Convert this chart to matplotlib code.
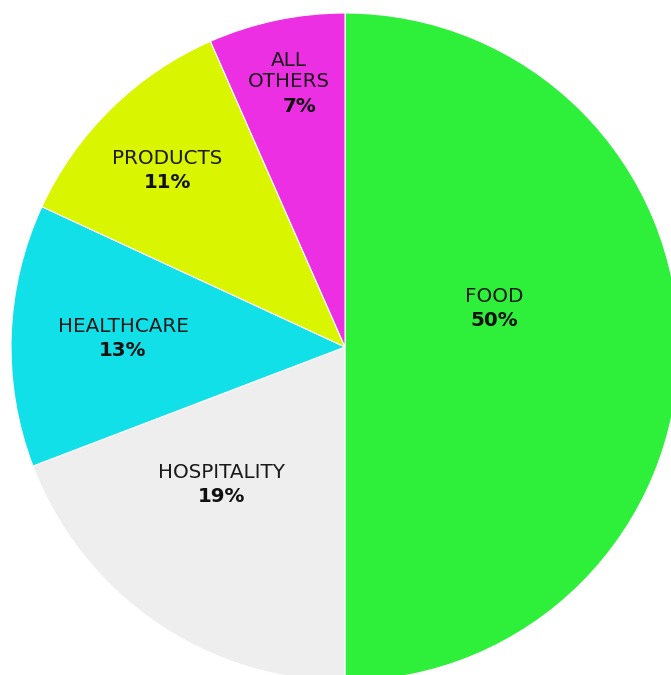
import matplotlib
matplotlib.use("Agg")
import matplotlib.pyplot as plt

categories = ["FOOD", "HOSPITALITY", "HEALTHCARE", "PRODUCTS", "ALL\nOTHERS"]
values = [50.0, 19.2, 12.7, 11.5, 6.6]
pct_labels = ["50%", "19%", "13%", "11%", "7%"]
colors = ["#2EEF3A", "#EEEEEE", "#12E0E8", "#DAF500", "#EC2FE2"]

# label anchor offsets (pixels from pie centre): x centre, y of name line, y of pct line
label_x = [149, -123, -222, -178, -56]
name_y = [50, -125, 21, 188, 276]
pct_y = [26, -149, -3, 164, 241]
pct_x_shift = [0, 0, 0, 0, 11]

W, H = 671, 675
cx, cy = 345, 347
R = 334

fig = plt.figure(figsize=(W / 100, H / 100), dpi=100)
ax = fig.add_axes([0, 0, 1, 1])
ax.pie(values, colors=colors, startangle=90, counterclock=False, radius=R,
       center=(0, 0), frame=True,
       wedgeprops=dict(edgecolor="white", linewidth=0.8))
ax.set_xlim(-cx, W - cx)
ax.set_ylim(-(H - cy), cy)
ax.set_aspect("equal")
ax.axis("off")

for cat, lab, x, ny, py, sx in zip(categories, pct_labels, label_x, name_y, pct_y, pct_x_shift):
    ax.text(x, ny, cat, ha="center", va="center", fontsize=14.3,
            family="DejaVu Sans", color="#1a1a1a", linespacing=1.15)
    ax.text(x + sx, py, lab, ha="center", va="center", fontsize=14.3,
            family="DejaVu Sans", fontweight="bold", color="#111111")

fig.savefig("out.png", dpi=100, facecolor="white")
